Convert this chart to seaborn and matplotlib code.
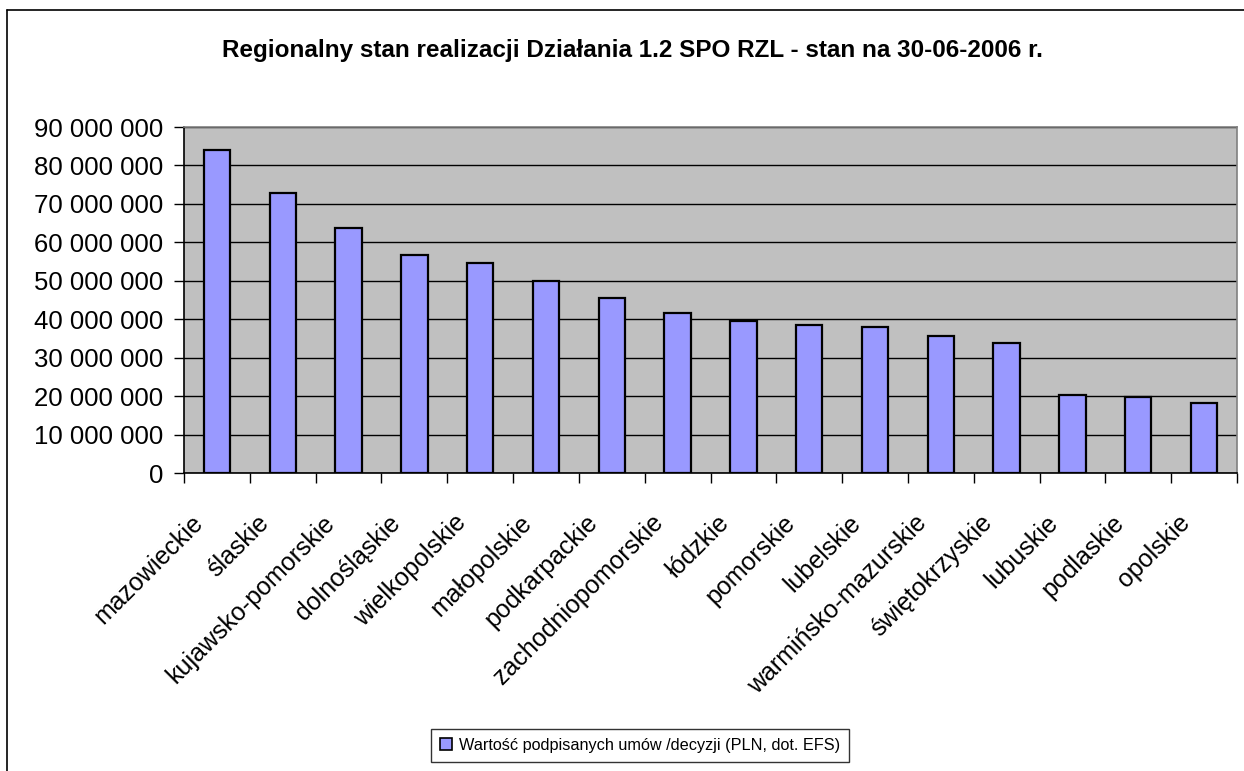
import numpy as np
import pandas as pd
import seaborn as sns
import matplotlib.pyplot as plt
import matplotlib.transforms as mtransforms
from matplotlib.lines import Line2D
from matplotlib.ticker import FuncFormatter, FixedLocator

# data (PLN)
regions = ["mazowieckie", "śląskie", "kujawsko-pomorskie", "dolnośląskie", "wielkopolskie",
           "małopolskie", "podkarpackie", "zachodniopomorskie", "łódzkie", "pomorskie",
           "lubelskie", "warmińsko-mazurskie", "świętokrzyskie", "lubuskie", "podlaskie",
           "opolskie"]
region_labels = ["mazowieckie", "ślaskie", "kujawsko-pomorskie", "dolnośląskie", "wielkopolskie",
                 "małopolskie", "podkarpackie", "zachodniopomorskie", "łódzkie", "pomorskie",
                 "lubelskie", "warmińsko-mazurskie", "świętokrzyskie", "lubuskie", "podlaskie",
                 "opolskie"]
values = [84.0e6, 72.9e6, 63.8e6, 56.6e6, 54.6e6, 50.0e6, 45.5e6, 41.5e6,
          39.5e6, 38.6e6, 38.0e6, 35.6e6, 33.9e6, 20.3e6, 19.7e6, 18.3e6]
series_name = "Wartość podpisanych umów /decyzji (PLN, dot. EFS)"
title = "Regionalny stan realizacji Działania 1.2 SPO RZL - stan na 30-06-2006 r."

df = pd.DataFrame({"region": regions, "value": values})

sns.set_style("white")
plt.rcParams["font.family"] = ["Liberation Sans", "DejaVu Sans"]
plt.rcParams["text.color"] = "black"
plt.rcParams["xtick.labelcolor"] = "black"
plt.rcParams["ytick.labelcolor"] = "black"

W, H = 1244, 771
fig = plt.figure(figsize=(W / 100, H / 100), dpi=100)
ax = fig.add_axes([184 / W, 1 - 473 / H, (1237 - 184) / W, (473 - 127) / H])
ax.set_facecolor("#C0C0C0")

sns.barplot(data=df, x="region", y="value", color="#9999FF", edgecolor="black",
            linewidth=1.6, width=0.4, saturation=1, ax=ax)

ax.set_ylim(0, 90e6)
ax.set_xlim(-0.5, len(regions) - 0.5)
ax.set_yticks(np.arange(0, 90e6 + 1, 10e6))
ax.yaxis.set_major_formatter(FuncFormatter(lambda v, p: f"{v:,.0f}".replace(",", " ")))
ax.grid(axis="y", color="black", linewidth=1.0)
ax.set_axisbelow(True)
ax.set_xlabel("")
ax.set_ylabel("")

for s in ["top", "right"]:
    ax.spines[s].set_color("#808080")
    ax.spines[s].set_linewidth(1.2)
for s in ["left", "bottom"]:
    ax.spines[s].set_color("black")
    ax.spines[s].set_linewidth(1.2)

ax.tick_params(axis="y", direction="out", length=7, width=1, color="black", labelcolor="black",
               labelsize=18.5, pad=8, left=True)
# category ticks sit between the bars, as in Excel
ax.xaxis.set_minor_locator(FixedLocator(np.arange(-0.5, len(regions), 1.0)))
ax.tick_params(axis="x", which="minor", direction="out", length=7, width=1, color="black", bottom=True)
ax.tick_params(axis="x", which="major", length=0, pad=27, labelcolor="black")
ax.set_xticks(range(len(regions)))
ax.set_xticklabels(region_labels, rotation=45, ha="right", va="top", rotation_mode="anchor", fontsize=18)
offset = mtransforms.ScaledTranslation(-19 / 72, 0, fig.dpi_scale_trans)
for lbl in ax.get_xticklabels():
    lbl.set_transform(lbl.get_transform() + offset)

fig.text(632 / W, 1 - 50 / H, title, ha="center", va="center", fontsize=17.5,
         fontweight="bold", color="black")

handle = Line2D([], [], marker="s", linestyle="none", markersize=9,
                markerfacecolor="#9999FF", markeredgecolor="black", markeredgewidth=1.2)
leg = fig.legend([handle], [series_name], loc="lower center", bbox_to_anchor=(640 / W, 1 / H),
                 frameon=True, fancybox=False, edgecolor="black", fontsize=11.7,
                 handlelength=0.8, handletextpad=0.4, borderpad=0.55, labelcolor="black")
leg.get_frame().set_linewidth(1.0)

# outer chart frame
fig.add_artist(Line2D([7 / W, 7 / W], [0, 1 - 9.5 / H], color="black", linewidth=1.2))
fig.add_artist(Line2D([7 / W, 1], [1 - 9.5 / H, 1 - 9.5 / H], color="black", linewidth=1.2))

fig.savefig("out.png", dpi=100, facecolor="white")
